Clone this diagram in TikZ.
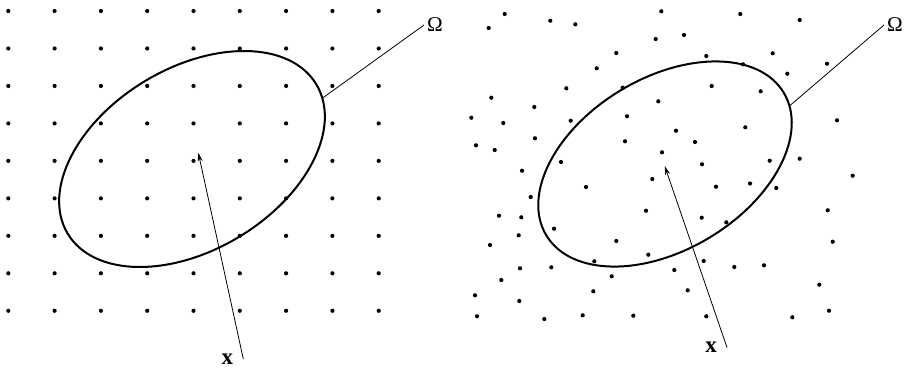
\documentclass[tikz,border=0pt]{standalone}
\usepackage{fontspec}
\setmainfont{Liberation Serif}
\usetikzlibrary{shapes.geometric, arrows.meta, positioning}

\begin{document}
\begin{tikzpicture}[x=1pt, y=-1pt,
        region/.style={ellipse, draw, line width=2pt, inner sep=0pt, outer sep=0pt},
        lead/.style={line width=0.8pt},
        vec/.style={-{Stealth[length=9pt, width=5pt]}, line width=0.8pt},
        omega/.style={font=\fontsize{21}{21}\selectfont, inner ysep=2pt, inner xsep=3pt},
        xlab/.style={font=\fontsize{23}{23}\selectfont\bfseries, anchor=east, inner xsep=10pt, inner ysep=0pt}
    ]
        \useasboundingbox (0,0) rectangle (904,368);

        % regular grid
        \foreach \i in {0,...,8} {
            \foreach \j in {0,...,8} {
                \fill (8.3+46.3*\i, 11+37.47*\j) circle [radius=2.1pt];
            }
        }

        % scattered points
        \foreach \x/\y in {504.7/14, 488.7/28, 550.3/20.7, 575.3/24.3, 661.3/11.3, 740.3/14,
                799.7/20, 655.7/39, 684/35, 616.3/53, 706.3/56, 772.7/53.3, 743/64.3,
                827/63.7, 596.7/68.3, 787.3/73.7, 622.7/87.7, 566.3/88.3, 711.7/86,
                760.7/91.3, 491.3/97.7, 534.3/107, 658.3/101.3, 471.3/117.7, 503.3/123,
                570.7/120.7, 627/116.3, 745.3/127.3, 837/120.3, 676/130.7, 535/138.3,
                625/141.3, 695/142, 476/145.3, 494.7/150, 662/152.3, 799.7/158.7,
                769.7/160.7, 561/162, 702/164.3, 522/170.7, 852.7/175.7, 652.3/179,
                750/183.5, 586/187, 716/186.7, 776.3/188, 530.7/197, 827.7/210.3,
                499/215.7, 521.3/217.3, 646/210.7, 701.7/217.7, 726.3/222.3, 554/228.7,
                518.7/235.3, 490/245, 616.3/241, 832.7/241.7, 648.3/254.7, 594.3/261.3,
                703.7/261, 520/268.3, 551.3/267.3, 734.3/267, 764/265.3, 674.3/270,
                611.7/276.3, 501.3/280, 819.3/284.7, 475/295.3, 593.3/291.3, 687.7/290.3,
                519.3/301, 477/316.3, 544.3/319, 582.7/315.3, 633.3/315.7, 706.3/316.3,
                792.3/317.3, 829/310.7} {
            \fill (\x,\y) circle [radius=2.1pt];
        }

        % regions
        \node[region, minimum width=290pt, minimum height=182pt, rotate=31] (omL) at (192,159) {};
        \node[region, minimum width=277pt, minimum height=172pt, rotate=31] (omR) at (665,164) {};

        \node[omega] (labL) at (435,25) {Ω};
        \node[omega] (labR) at (895,25) {Ω};
        \draw[lead] (omL.-6) -- (labL.west);
        \draw[lead] (omR.-6) -- (labR.west);

        % point x
        \coordinate (ptL) at (198.3,152.7);
        \coordinate (ptR) at (664.7,166);
        \node[xlab] (xL) at (243.3,359) {x};
        \node[xlab] (xR) at (727,347.5) {x};
        \draw[vec] (xL.east) -- (ptL);
        \draw[vec] (xR.east) -- (ptR);
    \end{tikzpicture}
\end{document}
